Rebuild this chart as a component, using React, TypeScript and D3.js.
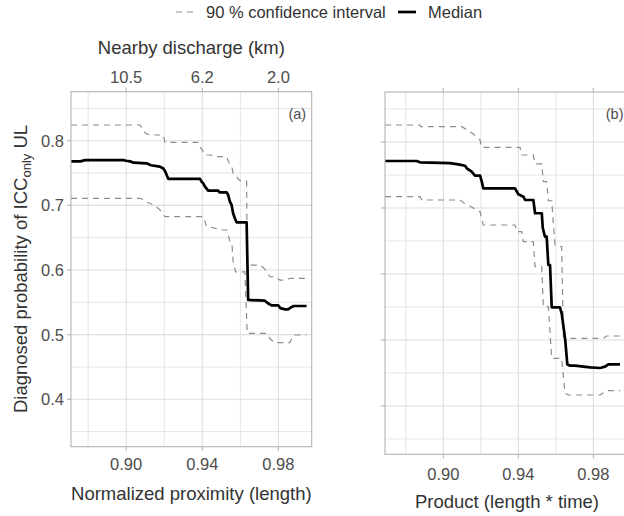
import React from "react";
import * as d3 from "d3";

// ---- data ----
const xTicks = [0.9, 0.94, 0.98];
const xMinor = [0.88, 0.92, 0.96, 1.0];
const yTicks = [0.4, 0.5, 0.6, 0.7, 0.8];
const yMinor = [0.35, 0.45, 0.55, 0.65, 0.75, 0.85];
const topTickLabels = ["10.5", "6.2", "2.0"];
const legendLabels = ["90 % confidence interval", "Median"];
const xTitles = ["Normalized proximity (length)", "Product (length * time)"];
const topTitle = "Nearby discharge (km)";
const panelTags = ["(a)", "(b)"];

const medianA: [number, number][] = [
  [0.871, 0.768], [0.876, 0.768], [0.8784, 0.77], [0.8985, 0.77], [0.9, 0.769], [0.902, 0.768],
  [0.904, 0.766], [0.9108, 0.765], [0.913, 0.762], [0.9177, 0.76], [0.9195, 0.757], [0.9204, 0.753],
  [0.9221, 0.741], [0.9388, 0.741], [0.9398, 0.736], [0.9405, 0.734], [0.9414, 0.7289], [0.9431, 0.7227],
  [0.9484, 0.7227], [0.949, 0.7202], [0.9528, 0.7202], [0.9536, 0.716], [0.9545, 0.7057], [0.9554, 0.7006],
  [0.9562, 0.6877], [0.9571, 0.68], [0.958, 0.6738], [0.9633, 0.6738], [0.9641, 0.5537], [0.9729, 0.5525],
  [0.9745, 0.5485], [0.9764, 0.5454], [0.9799, 0.5454], [0.981, 0.541], [0.9835, 0.5392], [0.9851, 0.5392],
  [0.9865, 0.542], [0.988, 0.5443], [0.9948, 0.5443],
];
const upperA: [number, number][] = [
  [0.871, 0.8243], [0.9072, 0.8243], [0.909, 0.818], [0.91, 0.812], [0.9125, 0.8088], [0.9195, 0.8088],
  [0.9204, 0.7975], [0.9379, 0.7975], [0.9388, 0.79], [0.94, 0.786], [0.9414, 0.7779], [0.9449, 0.7779],
  [0.9457, 0.7753], [0.9528, 0.7753], [0.954, 0.766], [0.9555, 0.76], [0.9562, 0.75], [0.958, 0.745],
  [0.959, 0.74], [0.9607, 0.737], [0.9633, 0.737], [0.9636, 0.6077], [0.9703, 0.6077], [0.972, 0.604],
  [0.9738, 0.598], [0.9755, 0.5896], [0.9781, 0.5896], [0.9808, 0.5845], [0.9843, 0.5845], [0.986, 0.5872],
  [0.9948, 0.5872],
];
const lowerA: [number, number][] = [
  [0.871, 0.7109], [0.9072, 0.7109], [0.909, 0.709], [0.9108, 0.705], [0.915, 0.7], [0.9177, 0.693],
  [0.9204, 0.6825], [0.9405, 0.6825], [0.9423, 0.667], [0.944, 0.667], [0.9493, 0.6619], [0.9528, 0.6619],
  [0.9536, 0.655], [0.9545, 0.644], [0.9556, 0.64], [0.9562, 0.613], [0.9575, 0.597], [0.9624, 0.597],
  [0.9636, 0.5021], [0.9738, 0.5021], [0.9755, 0.494], [0.978, 0.4876], [0.986, 0.4876], [0.9878, 0.4995],
  [0.9948, 0.4995],
];
const medianB: [number, number][] = [
  [0.8689, 0.7712], [0.8858, 0.7712], [0.8876, 0.7692], [0.9036, 0.768], [0.908, 0.7662], [0.9116, 0.764],
  [0.9125, 0.7602], [0.9151, 0.755], [0.9169, 0.749], [0.9196, 0.749], [0.9205, 0.74], [0.9213, 0.7298],
  [0.9382, 0.7298], [0.94, 0.7208], [0.9427, 0.7171], [0.9436, 0.7121], [0.948, 0.7121], [0.9489, 0.692],
  [0.9525, 0.692], [0.953, 0.67], [0.9542, 0.6565], [0.9551, 0.6565], [0.956, 0.6136], [0.9569, 0.6136],
  [0.9578, 0.5495], [0.9622, 0.5495], [0.9631, 0.5404], [0.965, 0.5], [0.9661, 0.4631], [0.9676, 0.461],
  [0.9702, 0.461], [0.9747, 0.4595], [0.9782, 0.4585], [0.9836, 0.4575], [0.9862, 0.4595], [0.988, 0.4631],
  [0.9942, 0.4631],
];
const upperB: [number, number][] = [
  [0.8689, 0.8258], [0.8876, 0.8258], [0.888, 0.8232], [0.91, 0.8232], [0.9116, 0.82], [0.916, 0.812],
  [0.9196, 0.803], [0.9205, 0.7919], [0.9409, 0.7919], [0.9418, 0.7803], [0.948, 0.7803], [0.9489, 0.767],
  [0.9525, 0.767], [0.9533, 0.7399], [0.9551, 0.7399], [0.956, 0.711], [0.9578, 0.711], [0.9587, 0.6742],
  [0.9596, 0.6439], [0.9631, 0.6413], [0.964, 0.5049], [0.9658, 0.5025], [0.9853, 0.5025], [0.9871, 0.506],
  [0.9942, 0.506],
];
const lowerB: [number, number][] = [
  [0.8689, 0.7171], [0.8876, 0.7171], [0.8885, 0.7121], [0.9089, 0.7121], [0.9107, 0.708], [0.916, 0.7],
  [0.9196, 0.6944], [0.9213, 0.6742], [0.9382, 0.6742], [0.9391, 0.6641], [0.9418, 0.6641], [0.9427, 0.6489],
  [0.948, 0.6489], [0.9489, 0.611], [0.9525, 0.611], [0.9533, 0.5504], [0.956, 0.5504], [0.9578, 0.4722],
  [0.9631, 0.4722], [0.9649, 0.4192], [0.9667, 0.4166], [0.9836, 0.4166], [0.9871, 0.4231], [0.9942, 0.4231],
];

const yDomain: [number, number] = [0.3267, 0.8758];
const FONT = "'Liberation Sans', Arial, sans-serif";
const GRID = "#dedede";
const BORDER = "#b3b3b3";
const TICKTXT = "#4d4d4d";
const TITLE = "#333333";
const CI = "#8c8c8c";

type PanelProps = {
  id: string;
  left: number; right: number; top: number; bottom: number;
  xDomain: [number, number];
  median: [number, number][]; upper: [number, number][]; lower: [number, number][];
  yLabels: boolean; topLabels: boolean;
  tag: string; xTitle: string; tickBase: number; titleBase: number;
};

function Panel(p: PanelProps) {
  const x = d3.scaleLinear().domain(p.xDomain).range([p.left, p.right]);
  const y = d3.scaleLinear().domain(yDomain).range([p.bottom, p.top]);
  const line = d3.line<[number, number]>().x((d) => x(d[0])).y((d) => y(d[1]));
  const clip = `clip-${p.id}`;
  return (
    <g>
      <defs>
        <clipPath id={clip}>
          <rect x={p.left} y={p.top} width={p.right - p.left} height={p.bottom - p.top} />
        </clipPath>
      </defs>
      <g clipPath={`url(#${clip})`}>
        {yMinor.map((v) => (
          <line key={"ym" + v} x1={p.left} x2={p.right} y1={y(v)} y2={y(v)} stroke={GRID} strokeWidth={0.8} />
        ))}
        {xMinor.map((v) => (
          <line key={"xm" + v} x1={x(v)} x2={x(v)} y1={p.top} y2={p.bottom} stroke={GRID} strokeWidth={0.8} />
        ))}
        {yTicks.map((v) => (
          <line key={"yM" + v} x1={p.left} x2={p.right} y1={y(v)} y2={y(v)} stroke={GRID} strokeWidth={1.1} />
        ))}
        {xTicks.map((v) => (
          <line key={"xM" + v} x1={x(v)} x2={x(v)} y1={p.top} y2={p.bottom} stroke={GRID} strokeWidth={1.1} />
        ))}
        <path d={line(p.upper) || ""} fill="none" stroke={CI} strokeWidth={1.2} strokeDasharray="6,5" />
        <path d={line(p.lower) || ""} fill="none" stroke={CI} strokeWidth={1.2} strokeDasharray="6,5" />
        <path d={line(p.median) || ""} fill="none" stroke="#000" strokeWidth={2.7} strokeLinejoin="round" />
      </g>
      <rect x={p.left} y={p.top} width={p.right - p.left} height={p.bottom - p.top} fill="none" stroke={BORDER} strokeWidth={1.1} />
      {yTicks.map((v) => (
        <g key={"yt" + v}>
          <line x1={p.left - 4} x2={p.left} y1={y(v)} y2={y(v)} stroke={BORDER} strokeWidth={1.1} />
          {p.yLabels && (
            <text x={p.left - 7} y={y(v)} dy="0.36em" textAnchor="end" fontSize={16.5} fill={TICKTXT} fontFamily={FONT}>
              {d3.format(".1f")(v)}
            </text>
          )}
        </g>
      ))}
      {xTicks.map((v, i) => (
        <g key={"xt" + v}>
          <line x1={x(v)} x2={x(v)} y1={p.bottom} y2={p.bottom + 4} stroke={BORDER} strokeWidth={1.1} />
          <line x1={x(v)} x2={x(v)} y1={p.top - 4} y2={p.top} stroke={BORDER} strokeWidth={1.1} />
          <text x={x(v)} y={p.tickBase} textAnchor="middle" fontSize={16.5} fill={TICKTXT} fontFamily={FONT}>
            {d3.format(".2f")(v)}
          </text>
          {p.topLabels && (
            <text x={x(v)} y={p.top - 9} textAnchor="middle" fontSize={16.5} fill={TICKTXT} fontFamily={FONT}>
              {topTickLabels[i]}
            </text>
          )}
        </g>
      ))}
      {p.topLabels && (
        <text x={(p.left + p.right) / 2} y={54} textAnchor="middle" fontSize={18.5} fill={TITLE} fontFamily={FONT}>
          {topTitle}
        </text>
      )}
      <text x={(p.left + p.right) / 2} y={p.titleBase} textAnchor="middle" fontSize={18.5} fill={TITLE} fontFamily={FONT}>
        {p.xTitle}
      </text>
      <text x={p.right - 5.5} y={119} textAnchor="end" fontSize={14.5} fill={TICKTXT} fontFamily={FONT}>
        {p.tag}
      </text>
    </g>
  );
}

export default function App() {
  return (
    <svg width={624} height={516} style={{ position: "absolute", left: 0, top: 0, background: "#fff" }}>
      <rect width={624} height={516} fill="#fff" />
      {/* legend */}
      <line x1={176} x2={194} y1={12} y2={12} stroke={CI} strokeWidth={1.2} strokeDasharray="6,5" />
      <text x={206} y={18} fontSize={16.5} fill={TITLE} fontFamily={FONT}>{legendLabels[0]}</text>
      <line x1={398} x2={416} y1={12} y2={12} stroke="#000" strokeWidth={2.7} />
      <text x={428} y={18} fontSize={16.5} fill={TITLE} fontFamily={FONT}>{legendLabels[1]}</text>

      {/* y title */}
      <text transform="translate(27,269) rotate(-90)" textAnchor="middle" fontSize={18.5} fill={TITLE} fontFamily={FONT}>
        <tspan>Diagnosed probability of ICC</tspan>
        <tspan fontSize={13} dy={4}>only</tspan>
        <tspan dy={-4}> UL</tspan>
      </text>

      <Panel id="a" left={71} right={311.7} top={91.7} bottom={446.7} xDomain={[0.871, 0.9975]}
        median={medianA} upper={upperA} lower={lowerA} yLabels={true} topLabels={true}
        tag={panelTags[0]} xTitle={xTitles[0]} tickBase={470} titleBase={500} />
      <Panel id="b" left={385} right={629} top={92} bottom={454.3} xDomain={[0.8689, 0.999]}
        median={medianB} upper={upperB} lower={lowerB} yLabels={false} topLabels={false}
        tag={panelTags[1]} xTitle={xTitles[1]} tickBase={479.5} titleBase={508} />
    </svg>
  );
}
